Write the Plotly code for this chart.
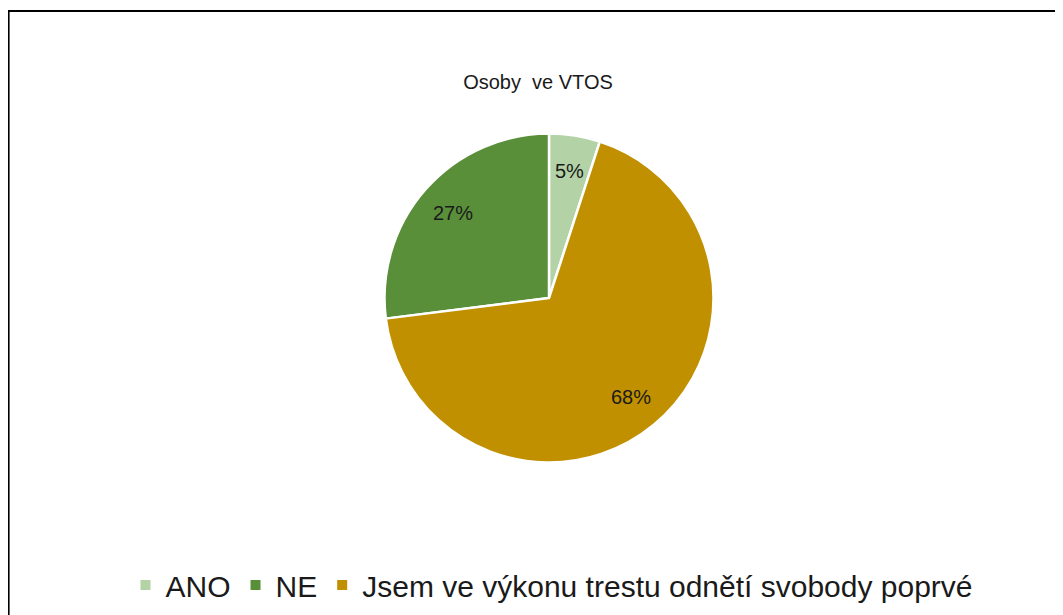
import numpy as np
import plotly.graph_objects as go

labels = ["ANO", "NE", "Jsem ve výkonu trestu odnětí svobody poprvé"]
values = [5, 27, 68]
colors = ["#B3D2A6", "#5A8F3A", "#C09000"]
title = "Osoby  ve VTOS"

# page body has an 8px margin; figure coordinates are page - 8
W, H = 1055, 607
cx, cy, r = 541, 290, 164.5
FONT = "Liberation Sans, Arial, sans-serif"

fig = go.Figure(go.Pie(
    labels=labels, values=values, sort=False,
    direction="counterclockwise", rotation=0,
    marker=dict(colors=colors, line=dict(color="white", width=2.5)),
    textinfo="none",
    domain=dict(x=[(cx - r) / W, (cx + r) / W], y=[1 - (cy + r) / H, 1 - (cy - r) / H]),
    hoverinfo="label+percent",
))

# percentage labels placed at the middle angle of each slice (counterclockwise from 12 o'clock)
vals = np.array(values, dtype=float)
frac = vals / vals.sum()
cum = np.concatenate([[0], np.cumsum(frac)[:-1]])
mid = (frac[0] - cum - frac / 2) * 2 * np.pi
rr = 0.79 * (r - 2)
annotations = []
for f, a in zip(frac, mid):
    annotations.append(dict(
        text=f"{f:.0%}", showarrow=False, xref="paper", yref="paper",
        x=(cx + rr * np.sin(a)) / W, y=1 - (cy - rr * np.cos(a)) / H,
        xanchor="center", yanchor="middle",
        font=dict(family=FONT, size=20, color="#1a1a1a")))

fig.update_layout(
    width=W, height=H,
    margin=dict(l=0, r=0, t=0, b=0),
    paper_bgcolor="white", plot_bgcolor="white",
    title=dict(text=title, x=530 / W, xanchor="center", y=1 - 74 / H, yanchor="middle",
               font=dict(family=FONT, size=20, color="#1a1a1a")),
    legend=dict(orientation="h", x=544 / W, xanchor="center", y=1 - 577 / H, yanchor="middle",
                font=dict(family=FONT, size=30, color="#1a1a1a"),
                itemsizing="constant", traceorder="normal"),
    annotations=annotations,
    shapes=[dict(type="rect", xref="paper", yref="paper",
                 x0=0.5 / W, x1=1.02, y0=-0.02, y1=1 - 3 / H,
                 line=dict(color="black", width=2.2), layer="below")],
)

fig.write_html("out.html")
